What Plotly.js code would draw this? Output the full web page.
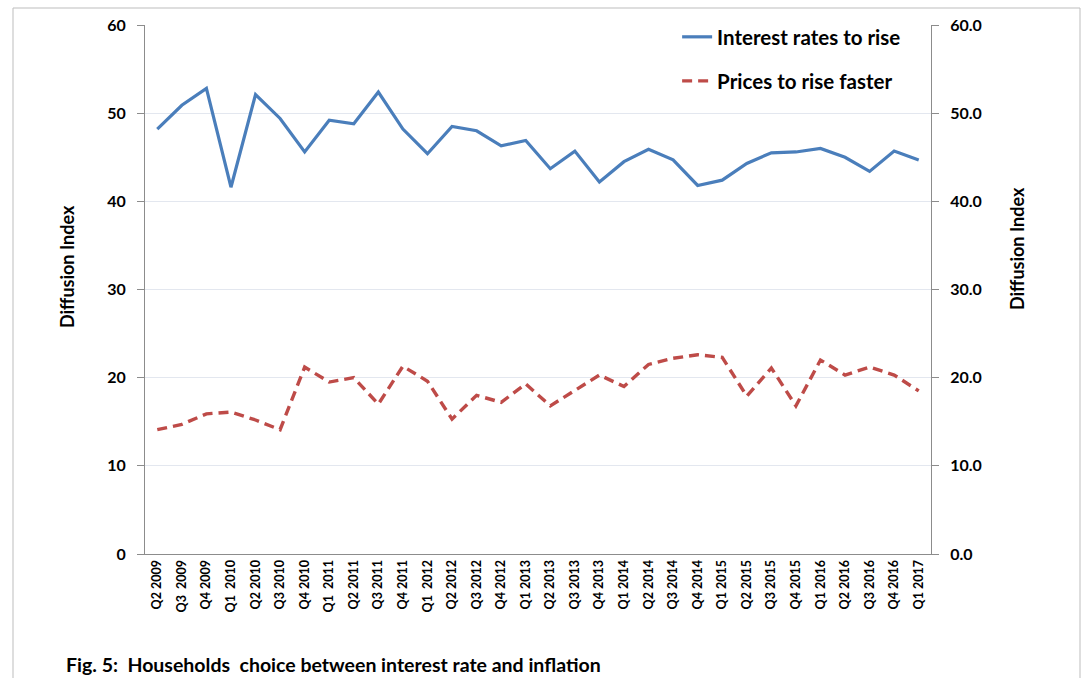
<!DOCTYPE html>
<html><head><meta charset="utf-8">
<script src="https://cdn.plot.ly/plotly-3.0.1.min.js"></script>
<style>html,body{margin:0;padding:0;background:#fff}#chart{width:1085px;height:678px}</style>
</head><body><div id="chart"></div>
<script>
const categories = ["Q2 2009","Q3\u00a0 2009","Q4 2009","Q1\u00a0 2010","Q2 2010","Q3 2010","Q4 2010",
  "Q1\u00a0 2011","Q2 2011","Q3 2011","Q4 2011","Q1\u00a0 2012","Q2 2012","Q3 2012","Q4 2012",
  "Q1 2013","Q2 2013","Q3 2013","Q4 2013","Q1 2014","Q2 2014","Q3 2014","Q4 2014",
  "Q1 2015","Q2 2015","Q3 2015","Q4 2015","Q1 2016","Q2 2016","Q3 2016","Q4 2016","Q1 2017"];
const interestRates = [48.2,50.9,52.8,41.6,52.1,49.4,45.6,49.2,48.8,52.4,48.2,45.4,48.5,48.0,46.3,46.9,
  43.7,45.7,42.2,44.5,45.9,44.7,41.8,42.4,44.3,45.5,45.6,46.0,45.0,43.4,45.7,44.7];
const pricesFaster = [14.1,14.7,15.9,16.1,15.2,14.1,21.2,19.5,20.0,17.0,21.3,19.6,15.3,18.0,17.2,19.3,
  16.8,18.5,20.3,19.0,21.5,22.2,22.6,22.3,17.9,21.1,16.8,22.0,20.3,21.2,20.3,18.5];
const leftTicks = [0,10,20,30,40,50,60];
const seriesNames = ["Interest rates to rise","Prices to rise faster"];
const yTitle = "Diffusion Index";
const caption = "Fig. 5:\u00a0 Households\u00a0 choice between interest rate and inflation";

const FONT = "Lato, 'Open Sans', sans-serif";
const GRAY = "#8c8c8c";
const n = categories.length;
const PX = (px) => (px - 145) / 786;
const PY = (py) => (554 - py) / 529;

const traces = [
  {x: categories, y: interestRates, name: seriesNames[0], type: "scatter", mode: "lines",
   line: {color: "#4A7EBB", width: 3.2}, xaxis: "x", yaxis: "y", legend: "legend", hoverinfo: "skip"},
  {x: categories, y: pricesFaster, name: seriesNames[1], type: "scatter", mode: "lines",
   line: {color: "#BE4B48", width: 3.4, dash: "10px,6px"}, xaxis: "x", yaxis: "y2", legend: "legend2", hoverinfo: "skip"}
];

const tickAxis = (dir) => ({
  overlaying: "x", anchor: "y", type: "linear", range: [-0.5, n - 0.5],
  tick0: -0.5, dtick: 1, ticks: dir, ticklen: 5, tickcolor: GRAY, tickwidth: 1,
  minor: {tick0: -0.5, dtick: 0.5, ticks: dir, ticklen: 3, tickcolor: GRAY, tickwidth: 1},
  showticklabels: false, showline: false, showgrid: false, zeroline: false, side: "bottom", fixedrange: true
});

const boldFont = (size) => ({family: FONT, size: size, color: "#000", weight: "bold"});

const layout = {
  width: 1085, height: 678,
  margin: {l: 145, r: 154, t: 25, b: 124},
  paper_bgcolor: "#fff", plot_bgcolor: "#fff",
  font: {family: FONT, color: "#000"},
  showlegend: true,
  xaxis: {type: "category", range: [-0.5, n - 0.5], tickangle: -90, ticks: "",
    tickfont: boldFont(12.5),
    showline: true, linecolor: GRAY, linewidth: 1, showgrid: false, zeroline: false, fixedrange: true},
  xaxis2: tickAxis("outside"),
  xaxis3: tickAxis("inside"),
  yaxis: {range: [0, 60], tickvals: leftTicks, ticks: "outside", ticklen: 7, tickcolor: GRAY,
    showline: true, linecolor: GRAY, linewidth: 1, gridcolor: "#e3e7ef", gridwidth: 1, zeroline: false,
    tickfont: boldFont(16), ticklabelstandoff: 8, fixedrange: true},
  yaxis2: {overlaying: "y", side: "right", anchor: "x", range: [0, 60], tickvals: leftTicks, tickformat: ".1f",
    ticks: "outside", ticklen: 7, tickcolor: GRAY, showline: true, linecolor: GRAY, linewidth: 1,
    showgrid: false, zeroline: false, tickfont: boldFont(16), ticklabelstandoff: 8, fixedrange: true},
  legend: {x: 0.677, y: PY(37), xanchor: "left", yanchor: "middle", bgcolor: "rgba(0,0,0,0)",
    font: boldFont(20.5)},
  legend2: {x: 0.677, y: PY(81), xanchor: "left", yanchor: "middle", bgcolor: "rgba(0,0,0,0)",
    font: boldFont(20.5)},
  annotations: [
    {text: caption, xref: "paper", yref: "paper", x: PX(64), y: PY(664),
     xanchor: "left", yanchor: "middle", showarrow: false, font: boldFont(19.5)},
    {text: yTitle, xref: "paper", yref: "paper", x: PX(67), y: PY(267), textangle: -90,
     xanchor: "center", yanchor: "middle", showarrow: false, font: boldFont(18)},
    {text: yTitle, xref: "paper", yref: "paper", x: PX(1017), y: PY(248), textangle: -90,
     xanchor: "center", yanchor: "middle", showarrow: false, font: boldFont(18)}
  ],
  shapes: [{type: "rect", xref: "paper", yref: "paper", x0: PX(13), x1: PX(1080),
    y0: -0.4, y1: PY(8), line: {color: "#bdbdbd", width: 1}, fillcolor: "rgba(0,0,0,0)", layer: "below"}]
};

Plotly.newPlot("chart", traces, layout, {staticPlot: true, displayModeBar: false});
</script></body></html>
